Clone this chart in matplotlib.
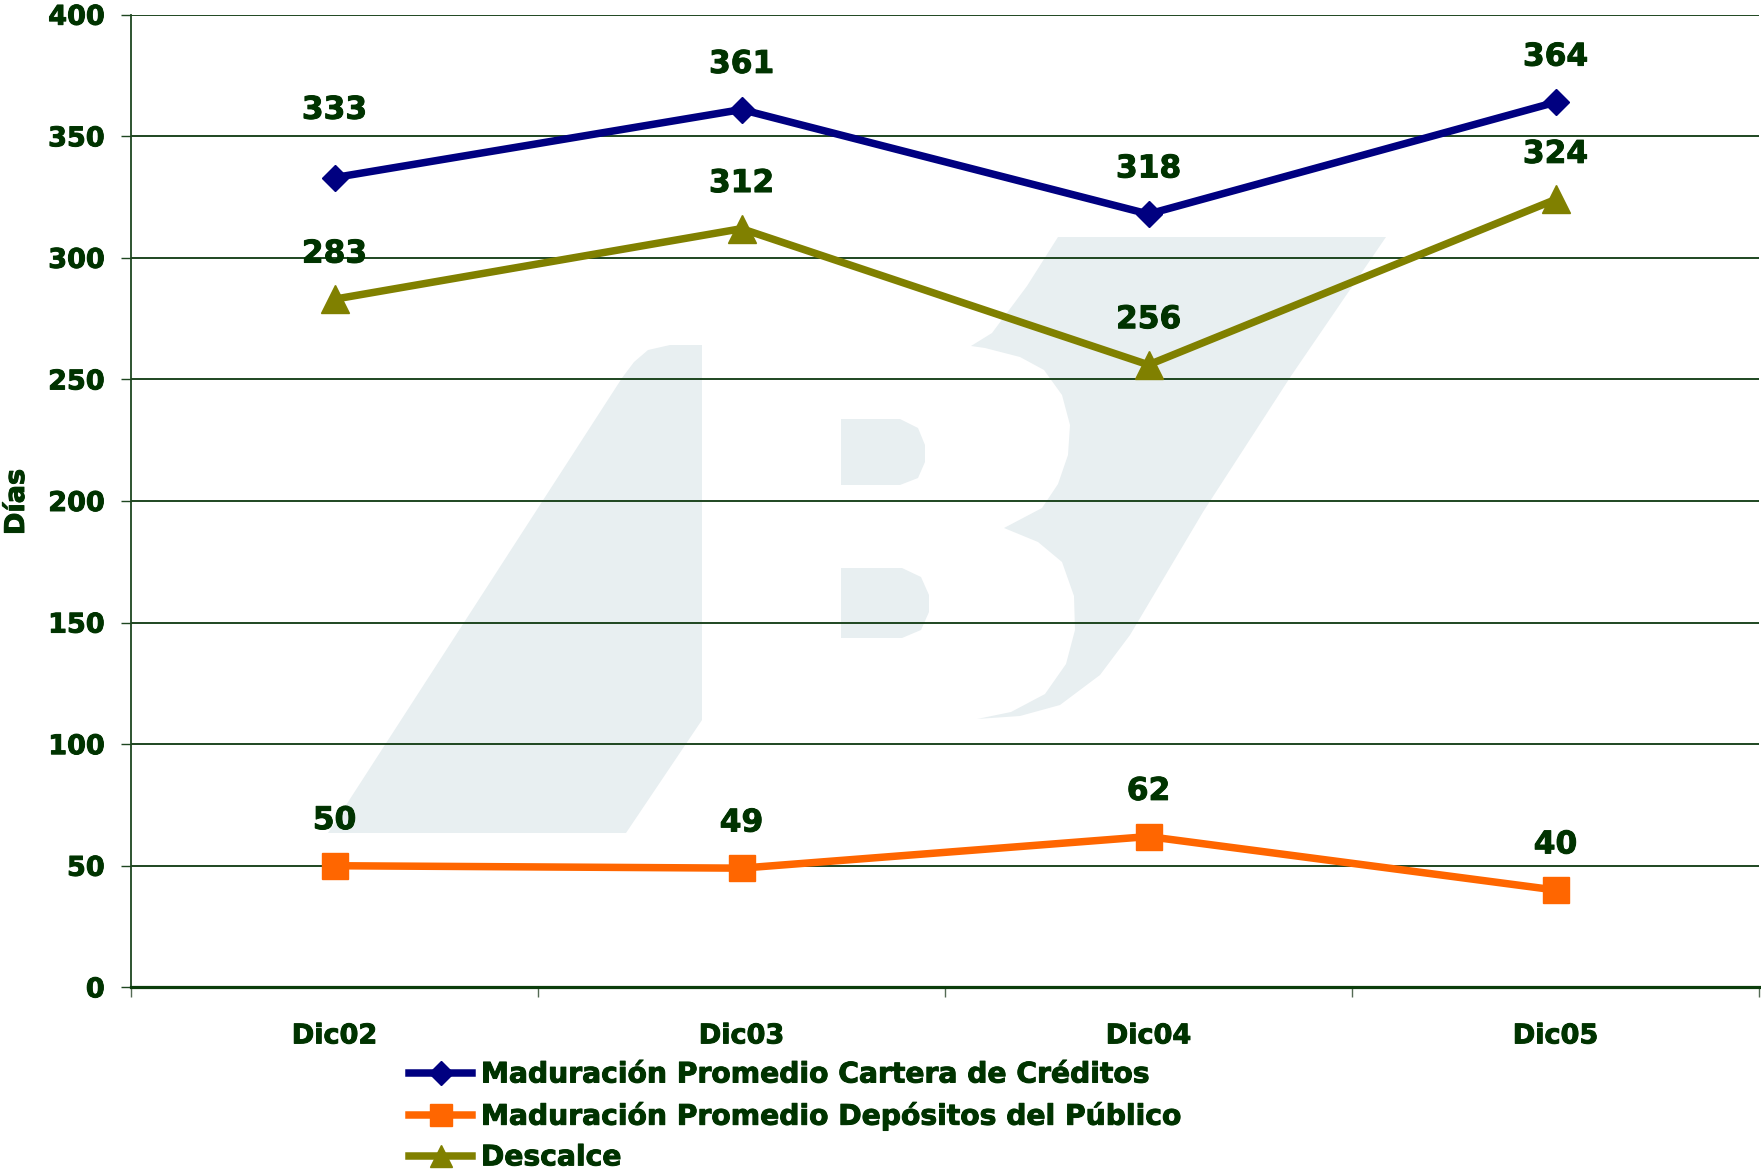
import numpy as np
import matplotlib
matplotlib.use('Agg')
import matplotlib.pyplot as plt
import matplotlib.patheffects as pe
from matplotlib.patches import Polygon
from matplotlib.lines import Line2D

plt.rcParams['font.family'] = 'DejaVu Sans'
plt.rcParams['font.weight'] = 'bold'

#%% Data
categories = ['Dic02', 'Dic03', 'Dic04', 'Dic05']
cartera = [333, 361, 318, 364]
depositos = [50, 49, 62, 40]
descalce = [283, 312, 256, 324]

series_names = ['Maduración Promedio Cartera de Créditos',
                'Maduración Promedio Depósitos del Público',
                'Descalce']

txt_col = '#003300'
wm_col = '#E8EFF1'
heavy = [pe.withStroke(linewidth=0.7, foreground=txt_col)]

#%% Figure
W, H = 1761, 1172
fig = plt.figure(figsize=(W / 100, H / 100), dpi=100)

# background logo (pixel coords)
bg = fig.add_axes([0, 0, 1, 1], zorder=0)
bg.set_xlim(0, W)
bg.set_ylim(H, 0)
bg.axis('off')

stem = [(328, 833), (626, 833), (702, 720), (702, 345), (670, 345),
        (648, 350), (634, 362), (622, 378)]
band = [(1058, 237), (1386, 237), (1291, 376), (1203, 512), (1130, 635),
        (1100, 675), (1060, 705), (1020, 716), (977, 719), (1011, 712),
        (1045, 694), (1066, 664), (1075, 630), (1074, 596), (1062, 562),
        (1038, 542), (1004, 528), (1042, 508), (1058, 484), (1068, 455),
        (1070, 425), (1062, 395), (1044, 370), (1020, 357), (985, 348),
        (971, 346), (992, 333), (1027, 286)]
bowl1 = [(841, 419), (900, 419), (918, 428), (925, 445), (925, 462),
         (918, 478), (900, 485), (841, 485)]
bowl2 = [(841, 568), (902, 568), (921, 577), (929, 595), (929, 612),
         (921, 630), (902, 638), (841, 638)]
for shp in [stem, band, bowl1, bowl2]:
    bg.add_patch(Polygon(shp, closed=True, facecolor=wm_col, edgecolor='none'))

# main axes
ax = fig.add_axes([131 / W, 1 - 987.3 / H, (1759 - 131) / W, (987.3 - 14.7) / H], zorder=1)
ax.patch.set_alpha(0)

x = np.arange(len(categories))
ax.plot(x, cartera, color='#000080', lw=5.4, marker='D', ms=13, zorder=4)
ax.plot(x, depositos, color='#FF6600', lw=5.4, marker='s', ms=18.5, zorder=4)
ax.plot(x, descalce, color='#808000', lw=5.4, marker='^', ms=19.5, zorder=4)

# data labels
label_off = [48.5, 32.5, 32.5, 32.5]
for i in range(len(categories)):
    for vals, off in [(cartera, label_off[i]), (depositos, 32.5), (descalce, 32.5)]:
        ax.annotate(str(vals[i]), (x[i], vals[i]), xytext=(0, off),
                    textcoords='offset points', ha='center', va='center',
                    fontsize=22.5, fontweight='bold', color=txt_col,
                    path_effects=heavy)

ax.set_xlim(-0.5, 3.5)
ax.set_ylim(0, 400)
ax.set_yticks(np.arange(0, 401, 50))
ax.yaxis.grid(True, color='#1E4620', lw=1.4)
ax.set_axisbelow(True)

ax.set_xticks(x)
ax.set_xticklabels(categories)
ax.set_xticks(np.arange(-0.5, 3.6, 1), minor=True)
ax.tick_params(axis='x', which='major', length=0, pad=26, labelsize=19.5, labelcolor=txt_col)
ax.tick_params(axis='x', which='minor', length=7, width=1, color='#556B55', direction='out')
ax.tick_params(axis='y', length=7, width=1, color='#1E4620', pad=12, labelsize=19.5, labelcolor=txt_col)
for lbl in ax.get_xticklabels() + ax.get_yticklabels():
    lbl.set_fontweight('bold')
    lbl.set_path_effects(heavy)

ax.spines['top'].set_visible(False)
ax.spines['right'].set_visible(False)
ax.spines['left'].set_color('#1E4620')
ax.spines['left'].set_linewidth(1.3)
ax.spines['bottom'].set_color('#0B3D0B')
ax.spines['bottom'].set_linewidth(2.3)

fig.text(17 / W, 1 - 502 / H, 'Días', rotation=90, ha='center', va='center',
         fontsize=19.5, fontweight='bold', color=txt_col, path_effects=heavy)

handles = [Line2D([], [], color='#000080', lw=5.4, marker='D', ms=12),
           Line2D([], [], color='#FF6600', lw=5.4, marker='s', ms=16),
           Line2D([], [], color='#808000', lw=5.4, marker='^', ms=16)]
leg = fig.legend(handles, series_names, loc='upper left',
                 bbox_to_anchor=(409 / W, 1 - 1060.5 / H), frameon=False,
                 prop={'size': 20.3, 'weight': 'bold'}, handlelength=2.25,
                 handletextpad=0.3, labelspacing=0.45, borderpad=0,
                 borderaxespad=0)
for t in leg.get_texts():
    t.set_color(txt_col)
    t.set_path_effects(heavy)

plt.savefig('out.png', dpi=100)
